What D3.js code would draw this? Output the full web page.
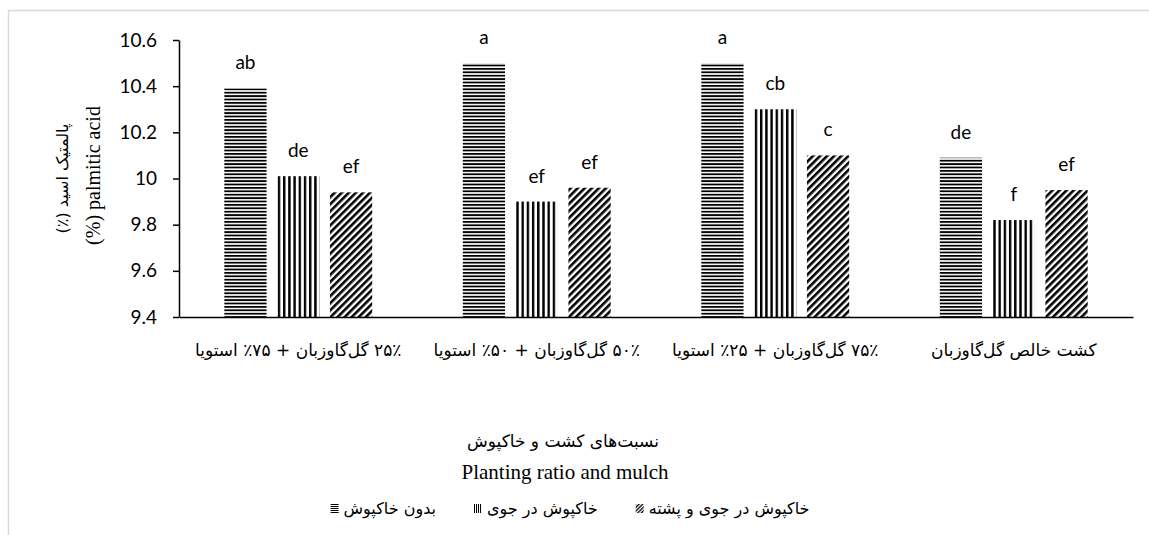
<!DOCTYPE html>
<html>
<head>
<meta charset="utf-8">
<script src="https://cdn.jsdelivr.net/npm/d3@7"></script>
<style>
  body { margin: 0; background: #fff; }
  svg { display: block; }
</style>
</head>
<body>
<svg id="chart" width="1149" height="535"></svg>
<script>
// Planting ratios (categories on the x axis)
const categories = [
  "۲۵٪ گل‌گاوزبان + ۷۵٪ استویا",
  "۵۰٪ گل‌گاوزبان + ۵۰٪ استویا",
  "۷۵٪ گل‌گاوزبان + ۲۵٪ استویا",
  "کشت خالص گل‌گاوزبان"
];
// Mulch treatments (series)
const seriesNames = ["بدون خاکپوش", "خاکپوش در جوی", "خاکپوش در جوی و پشته"];
// Palmitic acid (%) per treatment
const noMulch     = [10.39, 10.50, 10.50, 10.09];
const furrowMulch = [10.01,  9.90, 10.30,  9.82];
const ridgeMulch  = [ 9.94,  9.96, 10.10,  9.95];
// Mean-comparison letters
const noMulchLetters     = ["ab", "a", "a", "de"];
const furrowMulchLetters = ["de", "ef", "cb", "f"];
const ridgeMulchLetters  = ["ef", "ef", "c", "ef"];
// Y axis ticks
const yTicks = [9.4, 9.6, 9.8, 10, 10.2, 10.4, 10.6];

const yTitleFa = "پالمتیک اسید (٪)";
const yTitleEn = "(%) palmitic acid";
const xTitleFa = "نسبت‌های کشت و خاکپوش";
const xTitleEn = "Planting ratio and mulch";

const seriesValues = [noMulch, furrowMulch, ridgeMulch];
const seriesLetters = [noMulchLetters, furrowMulchLetters, ridgeMulchLetters];
const patternIds = ["pat-horiz", "pat-vert", "pat-diag"];

const svg = d3.select("#chart");
const faFont = "'DejaVu Sans', sans-serif";
const numFont = "Lato, 'Open Sans', sans-serif";
const serifFont = "'Liberation Serif', 'DejaVu Serif', serif";

// Stripe pattern: a black band of width `ink` repeated every `period` px,
// rotated by `angle` (0 = vertical stripes).
const defs = svg.append("defs");
function stripes(id, period, ink, angle) {
  const p = defs.append("pattern").attr("id", id)
    .attr("patternUnits", "userSpaceOnUse")
    .attr("width", period).attr("height", period)
    .attr("patternTransform", `rotate(${angle})`);
  p.append("rect").attr("width", period).attr("height", period).attr("fill", "#fff");
  p.append("rect").attr("width", ink).attr("height", period).attr("fill", "#000");
}
// Bar fills
stripes("pat-horiz", 3.4, 1.8, 90);
stripes("pat-vert", 5.2, 2.4, 0);
stripes("pat-diag", 5, 2.6, 45);
// Finer versions for the small legend keys
stripes("key-horiz", 2, 1, 90);
stripes("key-vert", 2, 1, 0);
stripes("key-diag", 2.6, 1.3, 45);
const keyIds = ["key-horiz", "key-vert", "key-diag"];

// Chart frame
svg.append("rect")
  .attr("x", 8.5).attr("y", 10.5).attr("width", 1300).attr("height", 700)
  .attr("fill", "none").attr("stroke", "#d9d9d9").attr("stroke-width", 1.5);

const plot = { left: 179, right: 1133, top: 40, bottom: 317 };

const x0 = d3.scaleBand().domain(categories).range([plot.left, plot.right]).padding(0);
const x1 = d3.scaleBand().domain(d3.range(seriesNames.length))
  .range([x0.bandwidth() * 0.19, x0.bandwidth() * 0.81]).paddingInner(0.2);
const y = d3.scaleLinear().domain([9.4, 10.6]).range([plot.bottom, plot.top]);

// Bars
const groups = svg.append("g").selectAll("g")
  .data(categories).join("g")
  .attr("transform", d => `translate(${x0(d)},0)`);

const cells = (d, i) => seriesValues.map((vals, s) => ({ s, v: vals[i], label: seriesLetters[s][i] }));

groups.selectAll("rect")
  .data(cells)
  .join("rect")
  .attr("x", d => x1(d.s))
  .attr("width", x1.bandwidth())
  .attr("y", d => y(d.v))
  .attr("height", d => y(9.4) - y(d.v))
  .attr("fill", d => `url(#${patternIds[d.s]})`);

groups.selectAll("text")
  .data(cells)
  .join("text")
  .attr("x", d => x1(d.s) + x1.bandwidth() / 2)
  .attr("y", d => y(d.v) - 19)
  .attr("text-anchor", "middle")
  .attr("font-family", numFont)
  .attr("font-size", 19)
  .attr("fill", "#000")
  .text(d => d.label);

// Y axis
const yAxis = svg.append("g")
  .attr("transform", `translate(${plot.left},0)`)
  .call(d3.axisLeft(y).tickValues(yTicks).tickSize(6).tickSizeOuter(0).tickPadding(16)
    .tickFormat(d => String(d)));
yAxis.select(".domain").attr("stroke", "#000").attr("stroke-width", 1.5);
yAxis.selectAll(".tick line").attr("stroke", "#000").attr("stroke-width", 1.5);
yAxis.selectAll(".tick text")
  .attr("font-family", numFont).attr("font-size", 19).attr("fill", "#000");

// X axis
const xAxis = svg.append("g")
  .attr("transform", `translate(0,${plot.bottom})`)
  .call(d3.axisBottom(x0).tickSize(0).tickPadding(27));
xAxis.select(".domain").attr("stroke", "#000").attr("stroke-width", 1.5);
xAxis.selectAll(".tick text")
  .attr("direction", "rtl")
  .attr("font-family", faFont).attr("font-size", 17).attr("fill", "#000");

// Y axis title (two lines, rotated)
const yMid = (plot.top + plot.bottom) / 2;
svg.append("text")
  .attr("transform", `translate(62,${yMid}) rotate(-90)`)
  .attr("direction", "rtl")
  .attr("text-anchor", "middle").attr("dy", "0.35em")
  .attr("font-family", faFont).attr("font-size", 16).attr("fill", "#000")
  .text(yTitleFa);
svg.append("text")
  .attr("transform", `translate(93,${yMid - 3}) rotate(-90)`)
  .attr("text-anchor", "middle").attr("dy", "0.35em")
  .attr("font-family", serifFont).attr("font-size", 20).attr("fill", "#000")
  .text(yTitleEn);

// X axis titles
svg.append("text")
  .attr("x", 563).attr("y", 447).attr("text-anchor", "middle")
  .attr("direction", "rtl")
  .attr("font-family", faFont).attr("font-size", 17).attr("fill", "#000")
  .text(xTitleFa);
svg.append("text")
  .attr("x", 565).attr("y", 479).attr("text-anchor", "middle")
  .attr("font-family", serifFont).attr("font-size", 21).attr("fill", "#000")
  .text(xTitleEn);

// Legend: key followed by its label, centred under the titles
const legend = svg.append("g");
const items = legend.selectAll("g").data(seriesNames).join("g");
items.append("rect")
  .attr("width", 8).attr("height", 9).attr("y", -10)
  .attr("fill", (d, i) => `url(#${keyIds[i]})`);
items.append("text")
  .attr("x", 13).attr("font-family", faFont).attr("font-size", 16).attr("fill", "#000")
  .text(d => d);
const gap = 38;
let cursor = 0;
items.each(function () {
  const g = d3.select(this);
  g.attr("transform", `translate(${cursor},0)`);
  cursor += 13 + g.select("text").node().getComputedTextLength() + gap;
});
const legendWidth = cursor - gap;
legend.attr("transform", `translate(${570 - legendWidth / 2},514)`);
</script>
</body>
</html>
